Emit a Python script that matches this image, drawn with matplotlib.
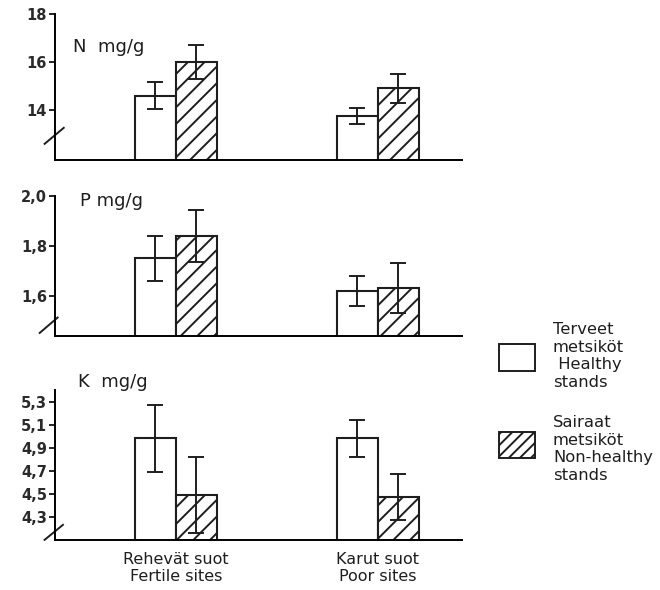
"""
Needle nutrient concentrations (N, P, K) in healthy vs. non-healthy stands
on fertile and poor peatland sites. Three stacked bar panels with error bars.
"""

import matplotlib
matplotlib.use("Agg")

import matplotlib.pyplot as plt
from matplotlib.patches import Rectangle
from matplotlib.lines import Line2D

plt.rcParams["font.family"] = ["DejaVu Sans"]
plt.rcParams["hatch.linewidth"] = 1.4

# ------------------------------------------------------------------
# Data
# ------------------------------------------------------------------
sites = ["Rehevät suot\nFertile sites", "Karut suot\nPoor sites"]

n_healthy     = [14.6, 13.75]
n_healthy_err = [0.55, 0.35]
n_sick        = [16.0, 14.9]
n_sick_err    = [0.72, 0.6]

p_healthy     = [1.75, 1.62]
p_healthy_err = [0.09, 0.06]
p_sick        = [1.84, 1.63]
p_sick_err    = [0.105, 0.10]

k_healthy     = [4.98, 4.98]
k_healthy_err = [0.29, 0.16]
k_sick        = [4.49, 4.47]
k_sick_err    = [0.33, 0.20]

n_ticks = [14, 16, 18]
n_ticklabels = ["14", "16", "18"]
p_ticks = [1.6, 1.8, 2.0]
p_ticklabels = ["1,6", "1,8", "2,0"]
k_ticks = [4.3, 4.5, 4.7, 4.9, 5.1, 5.3]
k_ticklabels = ["4,3", "4,5", "4,7", "4,9", "5,1", "5,3"]

legend_labels = ["Terveet\nmetsiköt\n Healthy\nstands",
                 "Sairaat\nmetsiköt\nNon-healthy\nstands"]

W = 0.203  # bar width in group units
POS = [0, 1]
INK = "#1e1e1e"

fig = plt.figure(figsize=(6.6, 5.9), dpi=100)

panels = [
    # rect, ylim, ticks, labels, values..., title, title pos, break-mark coords
    ([0.083, 0.729, 0.617, 0.247], (11.92, 18), n_ticks, n_ticklabels,
     n_healthy, n_healthy_err, n_sick, n_sick_err,
     "N  mg/g", (0.044, 0.774), ((-0.025, 0.022), (0.11, 0.22))),
    ([0.083, 0.431, 0.617, 0.237], (1.44, 2.0), p_ticks, p_ticklabels,
     p_healthy, p_healthy_err, p_sick, p_sick_err,
     "P mg/g", (0.061, 0.964), ((-0.037, 0.007), (0.02, 0.13))),
    ([0.083, 0.085, 0.617, 0.254], (4.1, 5.4), k_ticks, k_ticklabels,
     k_healthy, k_healthy_err, k_sick, k_sick_err,
     "K  mg/g", (0.056, 1.053), ((-0.025, 0.02), (0.0, 0.10))),
]

for i, (rect, ylim, ticks, tlabels, hv, he, sv, se, title, tpos, brk) in enumerate(panels):
    ax = fig.add_axes(rect)
    ax.set_xlim(-0.599, 1.416)
    ax.set_ylim(*ylim)

    xh = [p - W / 2 for p in POS]
    xs = [p + W / 2 for p in POS]
    ax.bar(xh, hv, width=W, color="white", edgecolor=INK, lw=1.5, zorder=2)
    ax.bar(xs, sv, width=W, color="white", edgecolor=INK, lw=1.5,
           hatch="//", zorder=2)
    ax.errorbar(xh, hv, yerr=he, fmt="none", ecolor=INK, elinewidth=1.4,
                capsize=5.5, capthick=1.4, zorder=3)
    ax.errorbar(xs, sv, yerr=se, fmt="none", ecolor=INK, elinewidth=1.4,
                capsize=5.5, capthick=1.4, zorder=3)

    for s in ("top", "right"):
        ax.spines[s].set_visible(False)
    ax.spines["left"].set_linewidth(1.4)
    ax.spines["bottom"].set_linewidth(1.4)
    ax.spines["left"].set_bounds(ylim[0], ticks[-1] if i < 2 else ylim[1])

    ax.set_yticks(ticks)
    ax.set_yticklabels(tlabels, fontsize=10.5, fontweight="bold", color="#2a2a2a")
    ax.tick_params(axis="y", length=4, width=1.2, pad=1.5)

    if i < 2:
        ax.set_xticks([])
    else:
        ax.set_xticks(POS)
        ax.set_xticklabels(sites, fontsize=11.5, color=INK, linespacing=1.15)
        ax.tick_params(axis="x", length=0, pad=9)

    ax.text(tpos[0], tpos[1], title, transform=ax.transAxes, fontsize=13,
            ha="left", va="center", color=INK, clip_on=False)

    # axis-break slash
    ax.add_line(Line2D(brk[0], brk[1], transform=ax.transAxes, color=INK,
                       lw=1.4, clip_on=False))

# ---- legend ---------------------------------------------------------
fig.patches.append(Rectangle((499 / 660, 1 - 371 / 590), 36 / 660, 27 / 590,
                             transform=fig.transFigure, facecolor="white",
                             edgecolor=INK, lw=1.4))
fig.patches.append(Rectangle((499 / 660, 1 - 458 / 590), 36 / 660, 26 / 590,
                             transform=fig.transFigure, facecolor="white",
                             edgecolor=INK, lw=1.4, hatch="///"))
fig.text(553 / 660, 1 - 356 / 590, legend_labels[0], fontsize=11.8,
         va="center", ha="left", color=INK, linespacing=1.2)
fig.text(553 / 660, 1 - 449 / 590, legend_labels[1], fontsize=11.8,
         va="center", ha="left", color=INK, linespacing=1.2)

plt.savefig("out.png", dpi=100)
